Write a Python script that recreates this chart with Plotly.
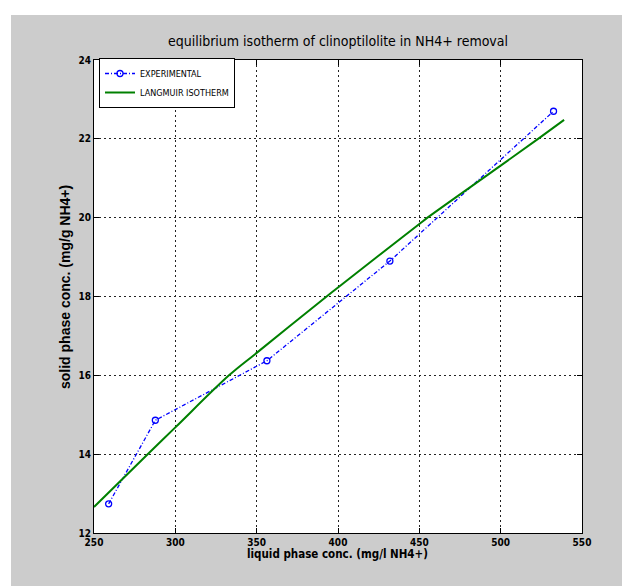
import plotly.graph_objects as go

# Experimental data
exp_x = [259, 287.7, 356.3, 431.9, 532.5]
exp_y = [12.74, 14.86, 16.37, 18.90, 22.70]

# Langmuir isotherm curve
lang_x = [250, 283, 300, 333, 350, 393, 400, 450, 455, 500, 523, 539]
lang_y = [12.66, 14.0, 14.68, 16.0, 16.57, 18.0, 18.23, 19.84, 20.0, 21.32, 22.0, 22.48]

x_ticks = [250, 300, 350, 400, 450, 500, 550]
y_ticks = [12, 14, 16, 18, 20, 22, 24]

W, H = 630, 586
L, R, T, B = 86, 574, 52, 525
pw, ph = R - L, B - T

def px(x):
    return (x - L) / pw

def py(y):
    return (B - y) / ph

narrow = "DejaVu Sans Condensed, Liberation Sans Narrow, Arial Narrow, sans-serif"

fig = go.Figure()
fig.add_trace(go.Scatter(
    x=exp_x, y=exp_y, mode="lines+markers", name="EXPERIMENTAL",
    line=dict(color="#0000ff", width=1.3, dash="4px,2px,1px,2px"),
    marker=dict(symbol="circle-open", size=6, color="#0000ff", line=dict(width=1.3, color="#0000ff")),
))
fig.add_trace(go.Scatter(
    x=lang_x, y=lang_y, mode="lines", name="LANGMUIR ISOTHERM",
    line=dict(color="#008000", width=2, shape="spline", smoothing=1),
))

axis_common = dict(
    showgrid=True, gridcolor="#222222", gridwidth=1, griddash="2px,3px",
    showline=True, linecolor="black", linewidth=1, mirror="ticks",
    ticks="inside", ticklen=5, tickcolor="black", zeroline=False,
    tickfont=dict(family=narrow, size=10, color="black", weight="bold"),
)

fig.update_xaxes(range=[250, 550], tickvals=x_ticks, ticktext=[str(v) for v in x_ticks],
                 ticklabelstandoff=0, **axis_common)
fig.update_yaxes(range=[12, 24], tickvals=y_ticks, ticktext=[str(v) for v in y_ticks],
                 **axis_common)

fig.update_layout(
    width=W, height=H,
    margin=dict(l=L, r=W - R, t=T, b=H - B, pad=0),
    paper_bgcolor="#cccccc", plot_bgcolor="white",
    title=dict(text="equilibrium isotherm of clinoptilolite in NH4+ removal",
               font=dict(family=narrow, size=14, color="black"),
               x=(L + R) / 2 / W, xanchor="center", y=1 - 33 / H, yanchor="middle", yref="container"),
    showlegend=True,
    legend=dict(x=px(91), y=py(50), xanchor="left", yanchor="top",
                bgcolor="white", bordercolor="black", borderwidth=1,
                font=dict(family=narrow, size=9, color="black"),
                itemwidth=30, tracegroupgap=0),
    annotations=[
        dict(text="<b>liquid phase conc. (mg/l NH4+)</b>", xref="paper", yref="paper",
             x=px(329), y=py(546), xanchor="center", yanchor="middle", showarrow=False,
             font=dict(family=narrow, size=11.5, color="black")),
        dict(text="<b>solid phase conc. (mg/g NH4+)</b>", xref="paper", yref="paper",
             x=px(57), y=py(279), xanchor="center", yanchor="middle", showarrow=False, textangle=-90,
             font=dict(family="Liberation Sans, Arial, sans-serif", size=14, color="black")),
    ],
    shapes=[
        dict(type="rect", xref="paper", yref="paper", x0=px(-5), x1=px(W + 5), y0=py(7), y1=py(-5),
             fillcolor="white", line=dict(width=0), layer="below"),
        dict(type="rect", xref="paper", yref="paper", x0=px(-5), x1=px(3), y0=py(H + 5), y1=py(-5),
             fillcolor="white", line=dict(width=0), layer="below"),
        dict(type="rect", xref="paper", yref="paper", x0=px(-5), x1=px(W + 5), y0=py(H + 5), y1=py(H - 2),
             fillcolor="#8fb0e0", line=dict(width=0), layer="below"),
    ],
)

fig.write_html("out.html")
